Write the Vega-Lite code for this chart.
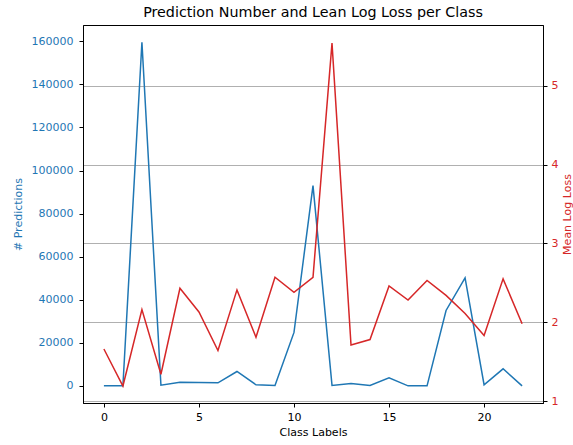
{
  "$schema": "https://vega.github.io/schema/vega-lite/v6.json",
  "autosize": "none",
  "width": 460,
  "height": 378,
  "padding": {"left": 83, "top": 25, "right": 30, "bottom": 42},
  "background": "white",
  "title": {"text": "Prediction Number and Lean Log Loss per Class", "font": "DejaVu Sans", "fontSize": 14.3, "fontWeight": "normal", "color": "black", "offset": 5},
  "config": {
    "view": {"stroke": "black", "strokeWidth": 1},
    "axis": {"labelFont": "DejaVu Sans", "titleFont": "DejaVu Sans", "labelFontSize": 11, "titleFontSize": 11, "titleFontWeight": "normal", "tickColor": "black", "domainColor": "black", "tickSize": 4, "labelPadding": 4}
  },
  "data": {"values": [
    {"c": 0, "n": 0, "loss": 1.66},
    {"c": 1, "n": 0, "loss": 1.19},
    {"c": 2, "n": 159600, "loss": 2.16},
    {"c": 3, "n": 300, "loss": 1.34},
    {"c": 4, "n": 1700, "loss": 2.43},
    {"c": 5, "n": 1500, "loss": 2.13},
    {"c": 6, "n": 1400, "loss": 1.64},
    {"c": 7, "n": 6650, "loss": 2.41},
    {"c": 8, "n": 500, "loss": 1.81},
    {"c": 9, "n": 200, "loss": 2.57},
    {"c": 10, "n": 24800, "loss": 2.38},
    {"c": 11, "n": 93000, "loss": 2.57},
    {"c": 12, "n": 200, "loss": 5.54},
    {"c": 13, "n": 1100, "loss": 1.71},
    {"c": 14, "n": 200, "loss": 1.78},
    {"c": 15, "n": 3700, "loss": 2.46},
    {"c": 16, "n": 0, "loss": 2.28},
    {"c": 17, "n": 0, "loss": 2.53},
    {"c": 18, "n": 35000, "loss": 2.34},
    {"c": 19, "n": 50100, "loss": 2.11},
    {"c": 20, "n": 500, "loss": 1.83},
    {"c": 21, "n": 7900, "loss": 2.55},
    {"c": 22, "n": 0, "loss": 1.98}
  ]},
  "encoding": {
    "x": {"field": "c", "type": "quantitative", "scale": {"domain": [-1.1, 23.1], "nice": false, "zero": false},
      "axis": {"title": "Class Labels", "values": [0, 5, 10, 15, 20], "grid": false, "labelFlush": false, "titlePadding": 4}}
  },
  "layer": [
    {
      "mark": {"type": "line", "color": "#1f77b4", "strokeWidth": 1.5},
      "encoding": {
        "y": {"field": "n", "type": "quantitative", "scale": {"domain": [-7980, 167580], "nice": false, "zero": false},
          "axis": {"title": "# Predictions", "orient": "left", "grid": false, "values": [0, 20000, 40000, 60000, 80000, 100000, 120000, 140000, 160000], "format": "d", "labelColor": "#1f77b4", "titleColor": "#1f77b4", "labelPadding": 6, "titlePadding": 8}}
      }
    },
    {
      "mark": {"type": "line", "color": "#d62728", "strokeWidth": 1.5},
      "encoding": {
        "y": {"field": "loss", "type": "quantitative", "scale": {"domain": [0.975, 5.77], "nice": false, "zero": false},
          "axis": {"title": "Mean Log Loss", "orient": "right", "grid": true, "gridColor": "#b0b0b0", "gridWidth": 1, "values": [1, 2, 3, 4, 5], "format": "d", "labelColor": "#d62728", "titleColor": "#d62728", "titleAngle": 270, "titleBaseline": "top", "titlePadding": 4}}
      }
    }
  ],
  "resolve": {"scale": {"y": "independent"}}
}
